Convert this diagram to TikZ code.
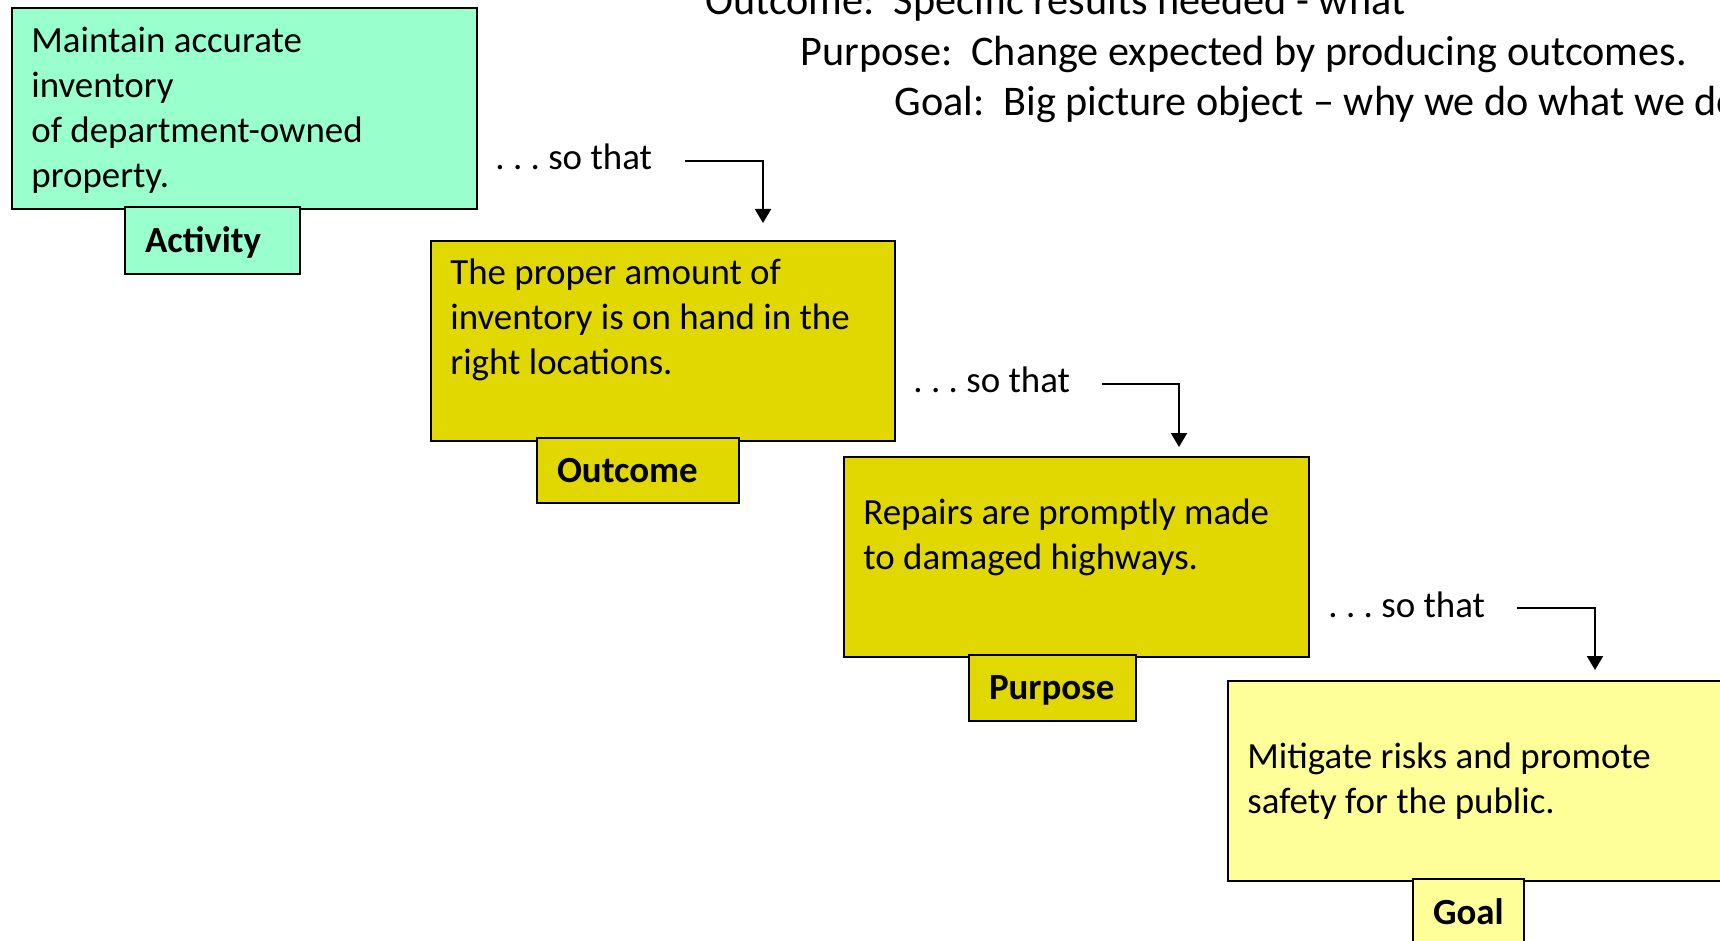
\documentclass[tikz,border=0pt]{standalone}
\usepackage{fontspec}
\setmainfont{Carlito}
\usetikzlibrary{arrows.meta}
\definecolor{mint}{RGB}{153,255,204}
\definecolor{olive}{RGB}{224,216,0}
\definecolor{paleyellow}{RGB}{255,255,153}
\newcommand\bodyfont{\fontsize{18.45}{22.5}\selectfont\frenchspacing}
\newcommand\headfont{\fontsize{21.1}{25}\selectfont\frenchspacing}
\tikzset{
  mainbox/.style={draw, line width=1pt, inner sep=0pt, anchor=north west},
  tagbox/.style={draw, line width=1pt, anchor=north west, inner xsep=10pt, inner ysep=0pt,
    align=left, font=\bodyfont\bfseries, text height=11.9pt, text depth=0pt},
  bodytext/.style={anchor=north west, inner sep=0pt, align=left, font=\bodyfont},
  sothat/.style={anchor=base west, inner sep=0pt, font=\bodyfont, text height=13pt, text depth=4pt},
  headline/.style={anchor=base west, inner sep=0pt, font=\headfont},
  conn/.style={line width=1pt, -{Triangle[width=8pt,length=7pt]}}
}
\begin{document}
\begin{tikzpicture}[x=0.5pt,y=-0.5pt]
\useasboundingbox (0,0) rectangle (1720,941);
\clip (0,0) rectangle (1720,941);
\fill[white] (0,0) rectangle (1720,941);

% header lines
\node[headline] (h1) at (705,15) {Outcome:\ \ Specific results needed - what};
\node[headline] (h2) at (800,66) {Purpose:\ \ Change expected by producing outcomes.};
\node[headline] (h3) at (894,116) {Goal:\ \ Big picture object – why we do what we do};

% main boxes
\node[mainbox, fill=mint, minimum width=232.5pt, minimum height=100.5pt] (act) at (11,7) {};
\node[mainbox, fill=olive, minimum width=232pt, minimum height=100pt] (out) at (430,240) {};
\node[mainbox, fill=olive, minimum width=232.5pt, minimum height=100pt] (pur) at (843,456) {};
\node[mainbox, fill=paleyellow, minimum width=260pt, minimum height=100pt] (goal) at (1227,680) {};

% texts in main boxes
\node[bodytext] (acttext) at (31,20.5) {\strut Maintain accurate\\inventory\\of department-owned\\property.};
\node[bodytext] (outtext) at (450,252.5) {\strut The proper amount of\\inventory is on hand in the\\right locations.};
\node[bodytext] (purtext) at (863,492.5) {\strut Repairs are promptly made\\to damaged highways.};
\node[bodytext] (goaltext) at (1247,736.5) {\strut Mitigate risks and promote\\safety for the public.};

% tag boxes
\node[tagbox, fill=mint, text width=67.5pt, minimum height=33.5pt] (acttag) at (124,206) {Activity};
\node[tagbox, fill=olive, text width=81pt, minimum height=32.5pt] (outtag) at (536,437) {Outcome};
\node[tagbox, fill=olive, text width=63.5pt, minimum height=33pt] (purtag) at (968,654) {Purpose};
\node[tagbox, fill=paleyellow, text width=35.5pt, minimum height=33.5pt] (goaltag) at (1412,878) {Goal};

% so that labels
\node[sothat] (st1) at (495,170) {. . . so that};
\node[sothat] (st2) at (913,393) {. . . so that};
\node[sothat] (st3) at (1328,617) {. . . so that};

% arrow tips
\coordinate (t1) at (763,223);
\coordinate (t2) at (1179,447);
\coordinate (t3) at (1595,670);

\draw[conn] ([xshift=16.5pt]st1.east) -| (t1);
\draw[conn] ([xshift=16pt]st2.east) -| (t2);
\draw[conn] ([xshift=16pt]st3.east) -| (t3);
\end{tikzpicture}
\end{document}
